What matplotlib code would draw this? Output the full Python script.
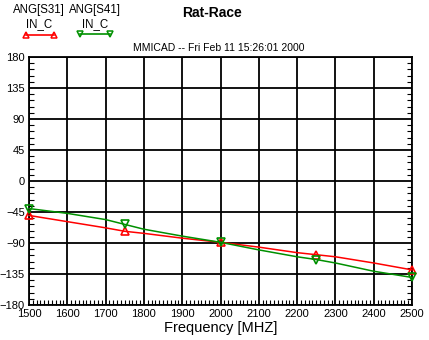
import matplotlib
matplotlib.use("Agg")
import matplotlib.pyplot as plt
from matplotlib.ticker import MultipleLocator
from matplotlib.lines import Line2D

plt.rcParams['font.family'] = ['Liberation Sans', 'DejaVu Sans']

freq = [1500, 1600, 1700, 1750, 1800, 1900, 2000, 2100, 2200, 2250, 2300, 2400, 2500]
s31 = [-50, -59, -68, -73, -76, -83, -89, -96, -104, -107, -110, -119, -129]
s41 = [-40, -47, -56, -63, -70, -80, -89, -100, -110, -114, -119, -131, -140]
marker_freq = [1500, 1750, 2000, 2250, 2500]

x_ticks = list(range(1500, 2501, 100))
y_ticks = list(range(-180, 181, 45))

red = '#ff0000'
green = '#009000'

fig = plt.figure(figsize=(4.29, 3.40), dpi=100)
ax = fig.add_axes([29/429, 1-305/340, (412-29)/429, (305-57)/340])

mark_idx = [freq.index(f) for f in marker_freq]
ax.plot(freq, s31, color=red, lw=1.1, marker='^', markevery=mark_idx, ms=6,
        mfc='none', mec=red, mew=1.2, zorder=3, clip_on=False)
ax.plot(freq, s41, color=green, lw=1.1, marker='v', markevery=mark_idx, ms=6,
        mfc='none', mec=green, mew=1.2, zorder=3, clip_on=False)

ax.set_xlim(1500, 2500)
ax.set_ylim(-180, 180)
ax.set_xticks(x_ticks)
ax.set_yticks(y_ticks)
ax.xaxis.set_minor_locator(MultipleLocator(10))
ax.yaxis.set_minor_locator(MultipleLocator(9))
ax.grid(True, which='major', color='black', lw=1.3)
ax.tick_params(which='both', direction='in', top=False, right=True, labelsize=8, colors='black')
ax.tick_params(which='major', length=0, pad=3)
ax.tick_params(which='minor', length=3.5, width=0.8)
for s in ax.spines.values():
    s.set_linewidth(1.3)
ax.set_xlabel('Frequency [MHZ]', fontsize=10.5, labelpad=1)

fig.text(212/429, 1-13/340, 'Rat-Race', ha='center', va='center', fontsize=10, fontweight='bold')
fig.text(219/429, 1-48/340, 'MMICAD -- Fri Feb 11 15:26:01 2000', ha='center', va='center', fontsize=7.5)

# legend
fig.text(39/429, 1-10/340, 'ANG[S31]', ha='center', va='center', fontsize=8.3)
fig.text(39/429, 1-24/340, 'IN_C', ha='center', va='center', fontsize=8.3)
fig.text(95/429, 1-10/340, 'ANG[S41]', ha='center', va='center', fontsize=8.3)
fig.text(95/429, 1-24/340, 'IN_C', ha='center', va='center', fontsize=8.3)
fig.add_artist(Line2D([26/429, 54/429], [1-35/340, 1-35/340], color=red, lw=1.2,
                      marker='^', ms=5, mfc='none', mec=red, mew=1.1))
fig.add_artist(Line2D([80/429, 110/429], [1-34/340, 1-34/340], color=green, lw=1.2,
                      marker='v', ms=5, mfc='none', mec=green, mew=1.1))

fig.savefig('out.png', dpi=100)
